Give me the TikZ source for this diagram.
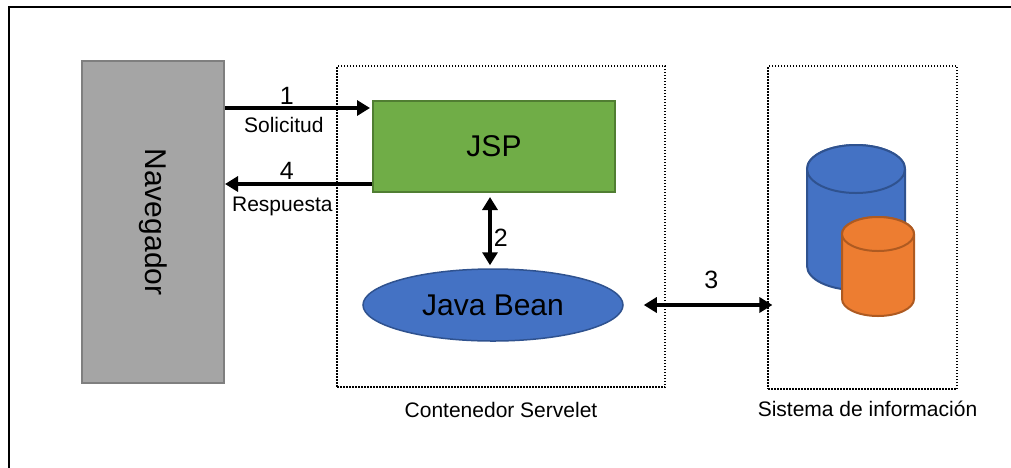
\documentclass[tikz,border=0pt]{standalone}
\usepackage{fontspec}
\setmainfont{Liberation Sans}
\usepackage{graphicx}
\usetikzlibrary{arrows.meta, positioning, shapes.geometric}

\definecolor{navgray}{HTML}{A5A5A5}
\definecolor{navline}{HTML}{7F7F7F}
\definecolor{jspgreen}{HTML}{70AD47}
\definecolor{jspline}{HTML}{507E32}
\definecolor{beanblue}{HTML}{4472C4}
\definecolor{beanline}{HTML}{2F528F}
\definecolor{dborange}{HTML}{ED7D31}
\definecolor{dbline}{HTML}{AE5A21}

\begin{document}
\begin{tikzpicture}[x=1pt, y=-1pt]
        \tikzset{big/.style = {font=\fontsize{30}{36}\selectfont}}
        \tikzset{sub/.style = {font=\fontsize{21}{25}\selectfont, inner sep=1pt}}
        \tikzset{num/.style = {font=\fontsize{25}{30}\selectfont, inner sep=1pt}}
        \tikzset{nav/.style = {shape=rectangle, big, fill=navgray, draw=navline, line width=2pt, minimum width=142pt, minimum height=322pt}}
        \tikzset{jsp/.style = {shape=rectangle, big, fill=jspgreen, draw=jspline, line width=2pt, minimum width=242pt, minimum height=91pt}}
        \tikzset{bean/.style = {shape=ellipse, big, fill=beanblue, draw=beanline, line width=1.5pt, inner sep=0pt, minimum width=260pt, minimum height=72pt}}
        \tikzset{frame/.style = {shape=rectangle, draw, line width=1.2pt, dash pattern=on 1.5pt off 1.5pt}}
        \tikzset{edge/.style = {line width=3.5pt, > = {Triangle[length=13pt, width=15pt]}}}
        \tikzset{cylblue/.style = {fill=beanblue, draw=beanline, line width=2pt}}
        \tikzset{cylorange/.style = {fill=dborange, draw=dbline, line width=2pt}}

        \useasboundingbox (0,0) rectangle (1011,467);
        \draw[line width=2.5pt] (9,7) rectangle (1030,490);

        \node[nav] (nav) at (153,222) {\rotatebox{-90}{Navegador}};
        \node[frame, minimum width=328pt, minimum height=321pt] (srv) at (501,226.5) {};
        \node[frame, minimum width=189pt, minimum height=323pt] (sis) at (862.5,227.5) {};
        \node[jsp] (jsp) at (494,146.5) {JSP};
        \node[bean] (bean) at (493,305) {Java Bean};

        \node[sub, below=13pt of srv] (srvlbl) {Contenedor Servelet};
        \node[sub, below=10pt of sis, xshift=5pt] (sislbl) {Sistema de información};

        % bases de datos
        \draw[cylblue] (807,169) -- (807,266) arc[start angle=180, end angle=0, x radius=49, y radius=24]
          -- (905,169) arc[start angle=0, end angle=-180, x radius=49, y radius=24] -- cycle;
        \draw[cylblue] (856,169) ellipse[x radius=49, y radius=24];
        \draw[cylorange] (842,234) -- (842,299) arc[start angle=180, end angle=0, x radius=36, y radius=17]
          -- (914,234) arc[start angle=0, end angle=-180, x radius=36, y radius=17] -- cycle;
        \draw[cylorange] (878,234) ellipse[x radius=36, y radius=17];

        \coordinate (r1) at (0,108);
        \coordinate (r4) at (0,184);

        \draw[edge, ->, shorten >=2pt] (nav.east |- r1) -- (jsp.west |- r1)
          node[num, above=1pt, pos=0.42] (n1) {1}
          node[sub, below=7pt, pos=0.4] (s1) {Solicitud};
        \draw[edge, ->] (jsp.west |- r4) -- (nav.east |- r4)
          node[num, above=2pt, pos=0.58] (n4) {4}
          node[sub, below=10pt, pos=0.61] (s4) {Respuesta};
        \draw[edge, <->, shorten <=4pt, shorten >=3pt] (jsp.south -| 490,0) -- (bean.north -| 490,0)
          node[num, right=1pt, pos=0.6] (n2) {2};
        \draw[edge, <->, shorten <=20pt, shorten >=-5pt] (bean.east) -- (sis.west |- bean.east)
          node[num, above=14pt, pos=0.61] (n3) {3};
      \end{tikzpicture}
\end{document}
